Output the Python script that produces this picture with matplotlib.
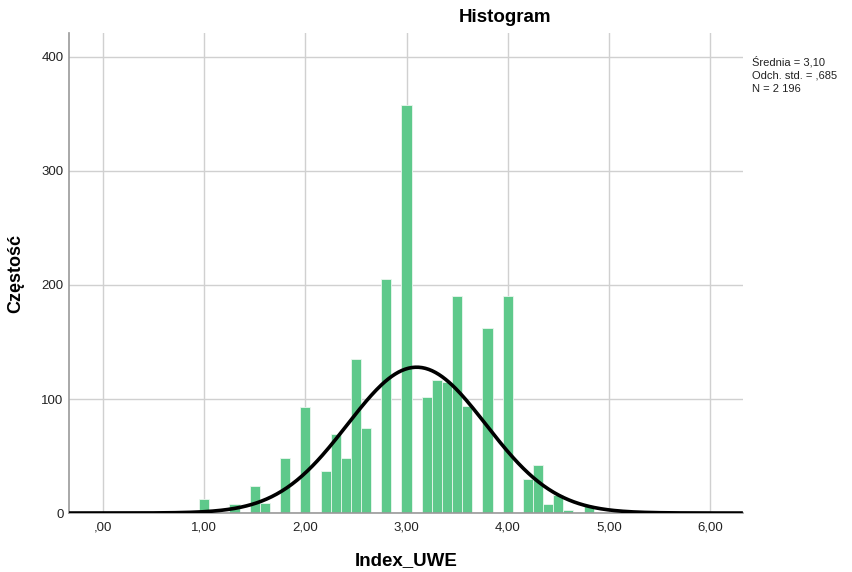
import numpy as np
import matplotlib
matplotlib.use('Agg')
import matplotlib.pyplot as plt

plt.rcParams['font.family'] = ['Liberation Sans', 'DejaVu Sans']

# histogram bars (bin centre, count)
bin_centers = [1.0, 1.3, 1.5, 1.6, 1.8, 2.0, 2.2, 2.3, 2.4, 2.5, 2.6, 2.8, 3.0,
               3.2, 3.3, 3.4, 3.5, 3.6, 3.8, 4.0, 4.2, 4.3, 4.4, 4.5, 4.6, 4.8]
counts = [12, 8, 24, 9, 48, 93, 37, 69, 48, 135, 75, 205, 358,
          102, 117, 115, 190, 94, 162, 190, 30, 42, 8, 16, 3, 6]
bin_width = 0.1

mean = 3.10
std = 0.685
n = 2196

x_ticks = [0, 1, 2, 3, 4, 5, 6]
x_tick_labels = [',00', '1,00', '2,00', '3,00', '4,00', '5,00', '6,00']
y_ticks = [0, 100, 200, 300, 400]

fig = plt.figure(figsize=(8.53, 5.72), dpi=100)
ax = fig.add_axes([0.0809, 0.1031, 0.790, 0.8392])

ax.set_xlim(-0.336, 6.324)
ax.set_ylim(0, 421)

ax.grid(True, color='#d0d0d0', lw=1.0)
ax.set_axisbelow(True)

ax.bar(bin_centers, counts, width=bin_width, color='#5ec98b',
       edgecolor='#eaf7ef', linewidth=0.6, zorder=2)

# normal curve scaled to counts
xs = np.linspace(-0.336, 6.324, 400)
ys = n * bin_width / (std * np.sqrt(2 * np.pi)) * np.exp(-0.5 * ((xs - mean) / std) ** 2)
ax.plot(xs, ys, color='black', lw=2.6, zorder=3, solid_capstyle='butt')

ax.set_xticks(x_ticks)
ax.set_xticklabels(x_tick_labels)
ax.set_yticks(y_ticks)
ax.tick_params(length=0, labelsize=9.5, colors='#222222')
ax.tick_params(axis='x', pad=6)
ax.tick_params(axis='y', pad=4)

for side in ['top', 'right']:
    ax.spines[side].set_visible(False)
for side in ['left', 'bottom']:
    ax.spines[side].set_color('#999999')
    ax.spines[side].set_linewidth(1.2)

ax.set_xlabel('Index_UWE', fontsize=13.5, fontweight='bold')
ax.xaxis.set_label_coords(0.5, -0.082)
ax.set_ylabel('Częstość', fontsize=13, fontweight='bold')
ax.yaxis.set_label_coords(-0.066, 0.5)

fig.text(505 / 853, 1 - 17 / 572, 'Histogram', ha='center', va='center',
         fontsize=13.5, fontweight='bold')

fig.text(752 / 853, 1 - 56 / 572, 'Średnia = 3,10\nOdch. std. = ,685\nN = 2 196',
         ha='left', va='top', fontsize=8, linespacing=1.4, color='#222222')

plt.savefig('out.png', dpi=100)
